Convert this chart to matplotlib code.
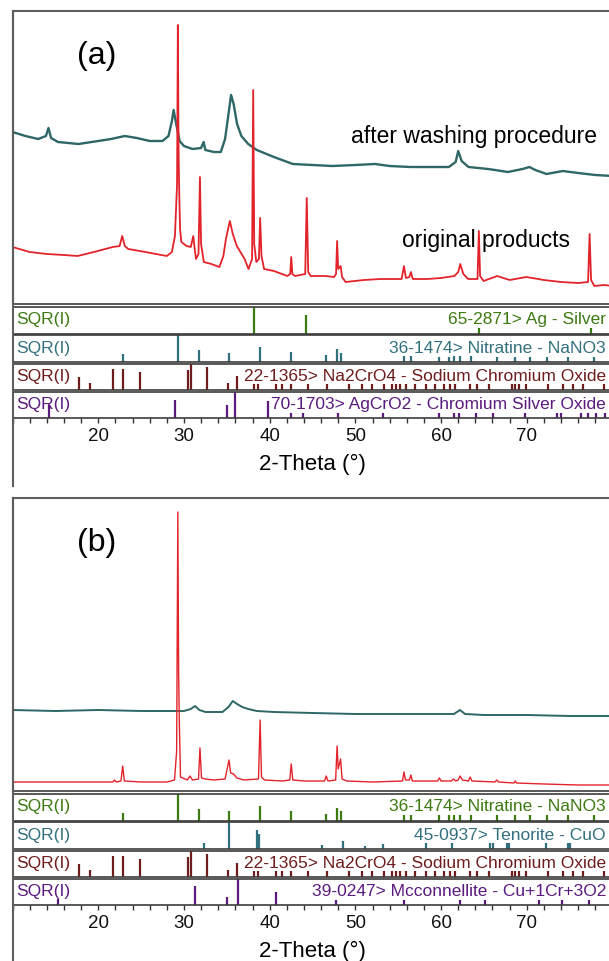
"""
XRD patterns (a) and (b) with reference card stick panels.
"""

import numpy as np
import matplotlib.pyplot as plt
from matplotlib.lines import Line2D
from matplotlib.ticker import FixedLocator, MultipleLocator

plt.rcParams['font.family'] = ['Liberation Sans', 'DejaVu Sans']

W, H = 609, 962

# ---- measured patterns: (2theta, intensity a.u.) ----
washed_a = [(10.0, 172), (11.5, 168), (13.0, 165), (13.9, 168), (14.2, 176), (14.5, 166),
            (15.3, 162), (17.7, 160), (20.0, 163), (21.5, 165), (23.1, 168), (24.5, 166),
            (26.0, 163), (27.5, 163), (28.2, 168), (28.6, 183), (28.8, 194), (29.1, 180),
            (29.5, 163), (30.0, 158), (31.0, 155), (32.0, 156), (32.3, 162), (32.5, 154),
            (33.5, 152), (34.3, 152), (34.8, 165), (35.2, 190), (35.5, 209), (35.8, 200),
            (36.2, 180), (36.7, 168), (37.5, 160), (38.5, 154), (40.5, 147), (42.7, 140),
            (45.0, 139), (47.3, 138), (50.0, 139), (52.3, 140), (54.0, 138), (56.4, 137),
            (58.5, 137), (60.9, 137), (61.7, 142), (62.0, 153), (62.4, 143), (63.2, 137),
            (65.5, 135), (67.8, 132), (69.5, 135), (70.3, 137), (71.0, 134), (72.3, 130),
            (74.2, 133), (76.0, 131), (78.0, 129), (80.0, 128)]

orig_a = [(10.0, 57), (12.0, 52), (14.0, 50), (16.0, 49), (17.6, 48), (19.5, 52), (21.7, 57),
          (22.5, 58), (22.8, 68), (23.1, 58), (23.5, 55), (25.5, 52), (28.0, 48), (28.6, 52),
          (28.95, 68), (29.2, 120), (29.29, 279), (29.38, 150), (29.46, 108), (29.55, 75),
          (29.7, 62), (30.3, 58), (30.8, 57), (31.09, 68), (31.3, 52), (31.41, 45), (31.7, 50),
          (31.87, 127), (32.0, 60), (32.32, 42), (33.2, 40), (34.13, 37), (34.6, 48),
          (34.9, 65), (35.36, 83), (35.7, 70), (36.17, 58), (37.08, 45), (37.53, 35),
          (37.95, 45), (38.08, 214), (38.2, 60), (38.44, 42), (38.75, 45), (38.89, 86),
          (39.05, 48), (39.35, 35), (40.5, 33), (42.07, 28), (42.4, 30), (42.52, 47),
          (42.65, 30), (42.97, 28), (44.15, 30), (44.33, 106), (44.5, 32), (44.79, 28),
          (46.5, 28), (47.51, 27), (47.75, 30), (47.87, 63), (48.0, 35), (48.28, 38),
          (48.45, 27), (48.86, 22), (51.0, 24), (52.95, 25), (55.4, 25), (55.67, 38),
          (55.9, 26), (56.3, 27), (56.48, 32), (56.7, 25), (58.39, 25), (60.0, 26),
          (61.56, 28), (62.0, 32), (62.24, 40), (62.6, 30), (63.15, 25), (64.25, 25),
          (64.41, 73), (64.55, 28), (64.96, 23), (66.54, 28), (68.0, 24), (69.95, 27),
          (72.0, 24), (74.0, 22), (76.0, 21), (77.15, 22), (77.33, 70), (77.5, 24),
          (77.88, 18), (79.0, 19), (80.0, 18)]

washed_b = [(10.0, 81), (15.0, 80), (20.0, 81), (25.0, 80), (28.0, 80), (30.0, 80), (30.8, 82),
            (31.3, 85), (31.8, 81), (32.5, 79), (34.5, 79), (35.2, 84), (35.7, 90), (36.2, 87),
            (36.8, 84), (37.5, 82), (38.5, 80), (40.5, 79), (45.0, 78), (50.0, 77), (55.0, 77),
            (60.0, 77), (61.5, 77), (62.2, 81), (62.8, 77), (65.0, 76), (70.0, 76), (75.0, 75),
            (80.0, 75)]

orig_b = [(10.0, 9), (15.0, 9), (20.0, 9), (21.7, 9), (21.9, 11), (22.1, 9), (22.65, 10),
          (22.86, 25), (23.05, 10), (25.0, 9), (28.0, 9), (28.9, 11), (29.15, 40), (29.29, 279),
          (29.38, 120), (29.46, 70), (29.6, 14), (30.4, 11), (30.7, 15), (31.0, 11), (31.7, 12),
          (31.87, 43), (32.05, 13), (32.5, 12), (33.5, 11), (34.8, 12), (35.26, 31), (35.45, 18),
          (35.8, 17), (36.17, 13), (37.0, 11), (38.7, 12), (38.89, 71), (39.05, 14), (39.4, 11),
          (41.5, 10), (42.35, 11), (42.52, 27), (42.7, 11), (44.0, 10), (46.4, 10), (46.6, 15),
          (46.8, 10), (47.7, 11), (47.87, 45), (48.0, 22), (48.28, 32), (48.45, 12), (49.0, 10),
          (52.0, 9), (55.5, 10), (55.67, 19), (55.85, 11), (56.3, 11), (56.48, 16), (56.65, 10),
          (59.6, 10), (59.8, 13), (60.0, 10), (61.2, 10), (61.43, 12), (61.7, 10), (62.0, 11),
          (62.22, 15), (62.5, 11), (63.2, 10), (63.39, 14), (63.6, 10), (66.3, 9), (66.5, 11),
          (66.7, 9), (68.5, 8), (68.64, 10), (68.8, 8), (72.0, 7), (76.0, 6), (80.0, 6)]

# ---- reference cards: stick positions and SQR(I) heights ----
ag_pos = [38.12, 44.30, 64.44, 77.47]
ag_h = [1.0, 0.70, 0.50, 0.50]

nitratine_pos = [22.85, 29.30, 31.80, 35.28, 38.87, 42.45, 46.62, 47.87, 48.28,
                 55.70, 56.50, 59.74, 60.87, 61.56, 62.24, 63.50, 66.50, 68.60,
                 70.40, 72.40, 74.80, 77.80]
nitratine_h = [0.28, 1.0, 0.43, 0.34, 0.54, 0.36, 0.24, 0.47, 0.34,
               0.3, 0.25, 0.2, 0.2, 0.22, 0.25, 0.3, 0.2, 0.2,
               0.2, 0.2, 0.2, 0.2]

na2cro4_pos = [17.81, 19.03, 21.71, 22.85, 24.93, 30.46, 30.77, 32.68, 35.09, 36.17,
               38.21, 38.67, 40.80, 41.39, 42.52, 44.47, 46.74, 49.22, 50.81, 51.94,
               53.40, 54.30, 54.76, 55.21, 55.89, 56.94, 58.29, 59.30, 60.34, 61.01,
               61.65, 63.37, 64.19, 65.64, 68.26, 68.59, 69.04, 69.95, 72.44, 74.25,
               75.38, 76.52, 79.01]
na2cro4_h = [0.49, 0.26, 0.80, 0.80, 0.67, 0.77, 1.0, 0.86, 0.28, 0.54,
             0.4, 0.4, 0.3, 0.3, 0.3, 0.3, 0.35, 0.3, 0.3, 0.3,
             0.3, 0.3, 0.3, 0.3, 0.3, 0.3, 0.3, 0.3, 0.3, 0.3,
             0.3, 0.3, 0.3, 0.3, 0.35, 0.35, 0.3, 0.3, 0.3, 0.3,
             0.3, 0.3, 0.3]

agcro2_pos = [14.27, 28.93, 35.04, 35.95, 39.80, 42.52, 43.88, 47.96, 53.17, 59.74,
              61.56, 62.10, 64.05, 66.09, 69.81, 73.57, 74.03, 76.29, 77.19, 78.10, 79.10]
agcro2_h = [0.5, 0.7, 0.51, 1.0, 0.67, 0.5, 0.5, 0.3, 0.3, 0.35,
            0.35, 0.3, 0.3, 0.3, 0.3, 0.3, 0.3, 0.3, 0.3, 0.3, 0.3]

tenorite_pos = [32.37, 35.31, 38.49, 38.71, 46.06, 48.56, 51.13, 53.26, 58.25, 61.33,
                65.72, 66.09, 67.68, 67.91, 72.20, 74.80, 75.05]
tenorite_h = [0.23, 1.0, 0.70, 0.55, 0.15, 0.30, 0.10, 0.19, 0.35, 0.35,
              0.3, 0.3, 0.35, 0.35, 0.3, 0.35, 0.35]

mcconnellite_pos = [15.32, 31.28, 34.99, 36.27, 40.75, 47.73, 55.67, 62.24, 65.18,
                    71.44, 74.16, 77.24]
mcconnellite_h = [0.25, 0.75, 0.33, 1.0, 0.5, 0.35, 0.4, 0.4, 0.35, 0.3, 0.3, 0.3]

ticks_major = [20, 30, 40, 50, 60, 70]

RED = '#e3232b'
TEAL = '#2f6767'
GREEN = '#3d7a12'
BLUEGREEN = '#33707e'
MAROON = '#6e1c1c'
PURPLE = '#5b1b7e'

cards_a = [('65-2871> Ag - Silver', ag_pos, ag_h, GREEN),
           ('36-1474> Nitratine - NaNO3', nitratine_pos, nitratine_h, BLUEGREEN),
           ('22-1365> Na2CrO4 - Sodium Chromium Oxide', na2cro4_pos, na2cro4_h, MAROON),
           ('70-1703> AgCrO2 - Chromium Silver Oxide', agcro2_pos, agcro2_h, PURPLE)]

cards_b = [('36-1474> Nitratine - NaNO3', nitratine_pos, nitratine_h, GREEN),
           ('45-0937> Tenorite - CuO', tenorite_pos, tenorite_h, BLUEGREEN),
           ('22-1365> Na2CrO4 - Sodium Chromium Oxide', na2cro4_pos, na2cro4_h, MAROON),
           ('39-0247> Mcconnellite - Cu+1Cr+3O2', mcconnellite_pos, mcconnellite_h, PURPLE)]

X0, X1 = 12.5, 612.5
FRAME = '#5e5e5e'
BOX = '#3c3c3c'

fig = plt.figure(figsize=(W / 100, H / 100), dpi=100)


def px_axes(top, bottom):
    return fig.add_axes([X0 / W, 1 - bottom / H, (X1 - X0) / W, (bottom - top) / H])


def draw_panel(top, tag, washed, orig, cards, notes, lw_w, lw_o):
    # pattern area
    ax = px_axes(top, top + 293)
    w = np.array(washed)
    o = np.array(orig)
    ax.plot(w[:, 0], w[:, 1], color=TEAL, lw=lw_w)
    ax.plot(o[:, 0], o[:, 1], color=RED, lw=lw_o)
    ax.set_xlim(10, 80)
    ax.set_ylim(0, 293)
    ax.set_xticks([])
    ax.set_yticks([])
    ax.spines['right'].set_visible(False)
    for s in ['left', 'top']:
        ax.spines[s].set_color(FRAME)
        ax.spines[s].set_linewidth(1.5)
    ax.spines['bottom'].set_color(BOX)
    ax.spines['bottom'].set_linewidth(1.2)
    ax.text(19.8, 249, tag, fontsize=23, ha='center', va='center', color='black')
    for txt, x, y in notes:
        ax.text(x, y, txt, fontsize=16.5, ha='left', va='center', color='black')

    # stick rows
    for i, (name, pos, h, c) in enumerate(cards):
        rt = top + 296 + i * 28.3
        r = px_axes(rt, rt + 26.5)
        r.vlines(pos, 0, h, color=c, lw=1.6, zorder=1)
        r.set_xlim(10, 80)
        r.set_ylim(0, 1)
        r.set_yticks([])
        r.spines['right'].set_visible(False)
        for s in ['left', 'top', 'bottom']:
            r.spines[s].set_color(BOX)
            r.spines[s].set_linewidth(1.2)
        r.text(0.006, 0.55, 'SQR(I)', transform=r.transAxes, fontsize=12.5,
               ha='left', va='center', color=c, zorder=2)
        r.text(0.989, 0.55, name, transform=r.transAxes, fontsize=12.5,
               ha='right', va='center', color=c, zorder=2, clip_on=True,
               bbox=dict(facecolor='white', edgecolor='none', pad=1.0))
        if i < len(cards) - 1:
            r.set_xticks([])
        else:
            r.xaxis.set_major_locator(FixedLocator(ticks_major))
            r.xaxis.set_minor_locator(MultipleLocator(2))
            r.tick_params(which='both', direction='out', length=3.5, width=1.0,
                          color='#333333', labelsize=13.5, pad=3.0, labelcolor='#111111')

    fig.text(312.5 / W, 1 - (top + 452) / H, '2-Theta (°)', fontsize=16,
             ha='center', va='center')
    fig.add_artist(Line2D([X0 / W, X0 / W], [1 - top / H, 1 - (top + 475) / H],
                          color=FRAME, lw=1.5))


draw_panel(12, '(a)', washed_a, orig_a, cards_a,
           [('after washing procedure', 49.5, 168), ('original products', 55.45, 65)],
           1.7, 1.3)
draw_panel(499, '(b)', washed_b, orig_b, cards_b, [], 1.4, 1.0)

fig.savefig('out.png', dpi=100)
